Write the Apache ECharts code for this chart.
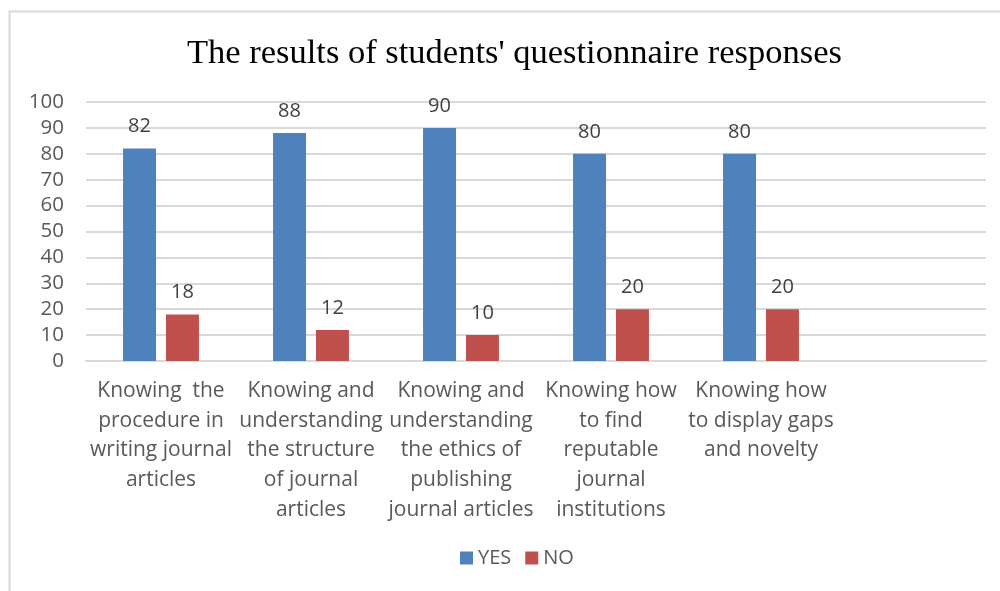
<!DOCTYPE html>
<html>
<head>
<meta charset="utf-8">
<script src="https://cdn.jsdelivr.net/npm/echarts@6/dist/echarts.min.js"></script>
<style>
html,body{margin:0;padding:0;background:#fff;}
#chart{width:1000px;height:591px;}
</style>
</head>
<body>
<div id="chart"></div>
<script>
const categories = [
  "Knowing  the\nprocedure in\nwriting journal\narticles",
  "Knowing and\nunderstanding\nthe structure\nof journal\narticles",
  "Knowing and\nunderstanding\nthe ethics of\npublishing\njournal articles",
  "Knowing how\nto find\nreputable\njournal\ninstitutions",
  "Knowing how\nto display gaps\nand novelty",
  ""
];
const yesValues = [82, 88, 90, 80, 80, null];
const noValues = [18, 12, 10, 20, 20, null];
const yTicks = {min: 0, max: 100, interval: 10};

const chart = echarts.init(document.getElementById('chart'), null, {renderer: 'canvas'});
const labelFont = '"Open Sans", sans-serif';
chart.setOption({
  animation: false,
  backgroundColor: '#fff',
  graphic: [{
    type: 'polyline',
    shape: {points: [[9.5, 591], [9.5, 11.5], [1000, 11.5]]},
    style: {stroke: '#d9d9d9', lineWidth: 2, fill: null},
    silent: true
  }],
  title: {
    text: "The results of students' questionnaire responses",
    left: 182,
    top: 31,
    textStyle: {fontFamily: '"Liberation Serif", serif', fontSize: 34.5, fontWeight: 'normal', color: '#000'}
  },
  legend: {
    data: ['YES', 'NO'],
    bottom: 18,
    left: 455,
    icon: 'rect',
    itemWidth: 13,
    itemHeight: 13,
    itemGap: 14,
    itemStyle: {borderWidth: 0},
    textStyle: {fontFamily: labelFont, fontSize: 20, color: '#595959'}
  },
  grid: {left: 86, right: 14, top: 102, bottom: 230, containLabel: false},
  xAxis: {
    type: 'category',
    data: categories,
    axisLine: {show: true, lineStyle: {color: '#d9d9d9', width: 2}},
    axisTick: {show: false},
    axisLabel: {
      interval: 0,
      margin: 15,
      fontFamily: labelFont,
      fontSize: 21,
      lineHeight: 29.7,
      color: '#595959',
      align: 'center'
    }
  },
  yAxis: {
    type: 'value',
    min: yTicks.min,
    max: yTicks.max,
    interval: yTicks.interval,
    axisLine: {show: false},
    axisTick: {show: false},
    splitLine: {lineStyle: {color: '#d9d9d9', width: 2}},
    axisLabel: {margin: 22, fontFamily: labelFont, fontSize: 20.5, color: '#595959'}
  },
  series: [
    {
      name: 'YES', type: 'bar', data: yesValues,
      barWidth: 33, barGap: '30%',
      itemStyle: {color: '#4f81bd'},
      label: {show: true, position: 'top', distance: 12, fontFamily: labelFont, fontSize: 20, color: '#404040'}
    },
    {
      name: 'NO', type: 'bar', data: noValues,
      barWidth: 33,
      itemStyle: {color: '#c0504d'},
      label: {show: true, position: 'top', distance: 12, fontFamily: labelFont, fontSize: 20, color: '#404040'}
    }
  ]
});
</script>
</body>
</html>
